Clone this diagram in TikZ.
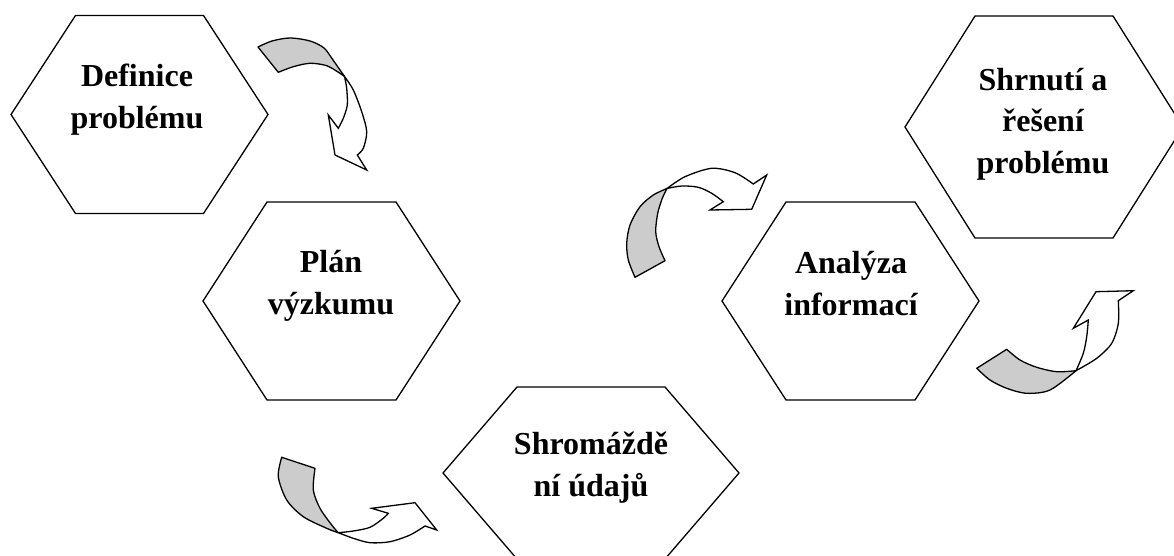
\documentclass[tikz,border=0pt]{standalone}
\usepackage{fontspec}
\setmainfont[Ligatures=NoCommon]{Liberation Serif}
\newcommand\mkhex[4]{\draw[hexline,shift={(#1)}] (-#2,0) -- (-#3,-#4) -- (#3,-#4) -- (#2,0) -- (#3,#4) -- (-#3,#4) -- cycle;}
\begin{document}
\begin{tikzpicture}[x=1pt,y=-1pt,
  hexline/.style={draw=black,line width=1.3pt,line join=miter},
  lbl/.style={font=\fontsize{32}{41.5}\selectfont\bfseries,align=center,inner sep=0pt,anchor=base},
  backface/.style={fill=black!20,draw=black,line width=1.3pt,line join=round},
  frontface/.style={fill=white,draw=black,line width=1.3pt,line join=miter}]
\useasboundingbox (0,0) rectangle (1174,556);
\clip (0,0) rectangle (1174,556);
% hexagon centres
\coordinate (c1) at (139.5,114.5);
\coordinate (c2) at (331.5,301);
\coordinate (c3) at (591,473);
\coordinate (c4) at (850.5,301);
\coordinate (c5) at (1044,127);
\mkhex{c1}{128.5}{64}{99}
\mkhex{c2}{128.5}{64.5}{99}
\mkhex{c3}{148}{74}{86}
\mkhex{c4}{128.5}{64.5}{99}
\mkhex{c5}{139}{69}{111}
% labels (anchored at the baseline of the last line)
\node[lbl] (d1) at (137,128.3) {Definice\\problému};
\node[lbl] (d2) at (331,314) {Plán\\výzkumu};
\node[lbl] (d3) at (591,496) {Shromáždě\\ní údajů};
\node[lbl] (d4) at (851,315) {Analýza\\informací};
\node[lbl] (d5) at (1043,173.3) {Shrnutí a\\řešení\\problému};
% arrow 1
\filldraw[backface] (258,47) -- (278.3,72.3)
  -- plot[smooth] coordinates {(278.3,72.3) (293.3,66.7) (310,63.3) (326.7,65.7) (340,73.3) (344.5,76.5)}
  -- plot[smooth] coordinates {(344.5,76.5) (333,60) (324,48) (310,41) (290,38) (272,41) (258,47)} -- cycle;
\filldraw[frontface] (344.5,76.5)
  -- plot[smooth] coordinates {(344.5,76.5) (353.3,90) (361.7,111.7) (366.7,131.7) (363.3,148.3) (357.3,155)}
  -- (366.7,170) -- (335,155) -- (328.3,115) -- (338.3,128.3)
  -- plot[smooth] coordinates {(338.3,128.3) (343.3,118.3) (347.3,105) (346.7,88.3) (344.5,76.5)} -- cycle;
% arrow 2
\filldraw[backface] (635,277.3) -- (665,260.7)
  -- plot[smooth] coordinates {(665,260.7) (659,246.7) (655.7,231.7) (657.7,213.3) (662.3,198.3) (667,188.5)}
  -- plot[smooth] coordinates {(667,188.5) (653.3,195) (640,206.7) (630,225) (626.7,243.3) (628.3,260) (635,277.3)} -- cycle;
\filldraw[frontface] (667,188.5)
  -- plot[smooth] coordinates {(667,188.5) (685,176.7) (711.7,168.3) (735,172.7) (753.3,184)}
  -- (766.7,175) -- (751.7,209.3) -- (710,210) -- (723.3,201.7)
  -- plot[smooth] coordinates {(723.3,201.7) (711.7,193.3) (698.3,187.3) (681.7,186) (667,188.5)} -- cycle;
% arrow 3
\filldraw[backface] (976.7,368.3) -- (1006.7,349.3)
  -- plot[smooth] coordinates {(1006.7,349.3) (1020,360) (1036.7,367.3) (1056.7,371.7) (1076,370.7)}
  -- plot[smooth] coordinates {(1076,370.7) (1050,390) (1026.7,393.3) (1006.7,388.3) (990,380) (976.7,368.3)} -- cycle;
\filldraw[frontface] (1076,370.7)
  -- plot[smooth] coordinates {(1076,370.7) (1096.7,358.3) (1111.7,343.3) (1118.3,323.3) (1118.3,300.7)}
  -- (1133.3,290.7) -- (1096,291.7) -- (1073.3,328.3) -- (1088.3,320)
  -- plot[smooth] coordinates {(1088.3,320) (1086.7,336.7) (1083.3,353.3) (1076,370.7)} -- cycle;
% arrow 4
\filldraw[backface] (281.7,457.3) -- (315,468.3)
  -- plot[smooth] coordinates {(315,468.3) (313.3,490) (320,508.3) (331.7,525) (338.3,532.7)}
  -- plot[smooth] coordinates {(338.3,532.7) (326.7,528.3) (303.3,516.7) (286.7,500) (278.3,476.7) (281.7,457.3)} -- cycle;
\filldraw[frontface] (338.3,532.7)
  -- plot[smooth] coordinates {(338.3,532.7) (353.3,538.3) (370,542.7) (390,541.7) (410,535) (425,526)}
  -- (436.7,530) -- (415,502.7) -- (371.7,508.3) -- (388.3,513.3)
  -- plot[smooth] coordinates {(388.3,513.3) (383.3,518.3) (370,527.3) (353.3,531) (338.3,532.7)} -- cycle;
\end{tikzpicture}
\end{document}
